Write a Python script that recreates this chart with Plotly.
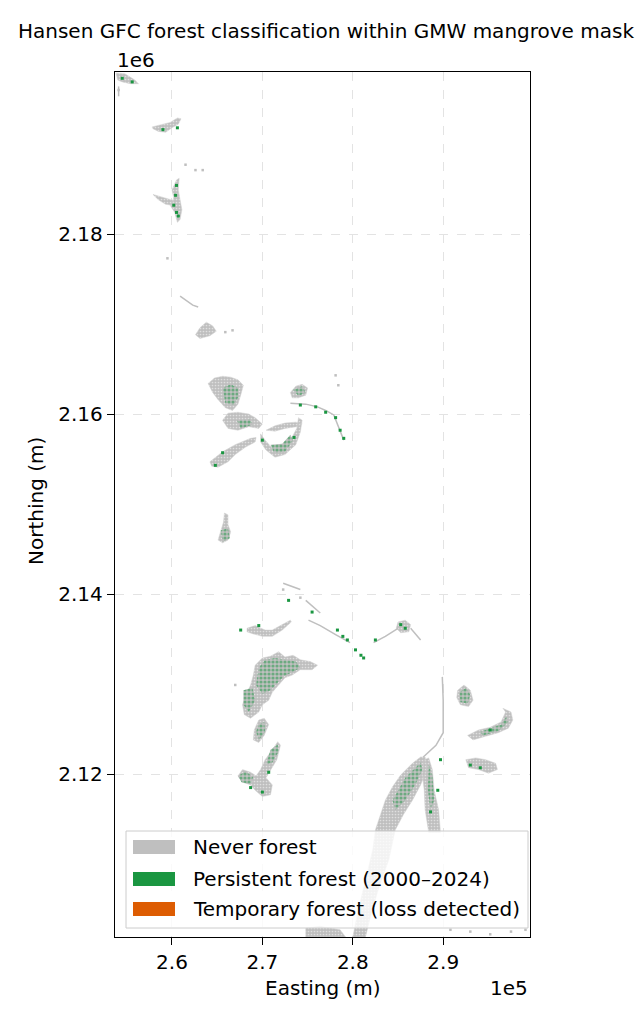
import plotly.graph_objects as go

# legend classes
class_labels = ["Never forest", "Persistent forest (2000–2024)", "Temporary forest (loss detected)"]
class_colors = ["#bfbfbf", "#1a9641", "#dd5c02"]

# axis ticks (coordinates kept in km)
x_ticks = [260, 270, 280, 290]
x_tick_text = ["2.6", "2.7", "2.8", "2.9"]
y_ticks = [2120, 2140, 2160, 2180]
y_tick_text = ["2.12", "2.14", "2.16", "2.18"]
x_range = [253.7, 299.6]
y_range = [2101.9, 2198.0]

# never-forest patch outlines (easting km / northing km), one list per patch
never_e = [
    [253.8, 254.8, 255.9, 256.3, 255.4, 254.5, 254.0],
    [257.8, 258.7, 259.8, 260.6, 261.0, 260.7, 260.0, 259.3, 258.5, 257.9],
    [257.9, 258.7, 259.6, 260.2, 260.0, 259.3, 258.5],
    [260.0, 260.5, 260.8, 260.7, 260.9, 261.1, 260.9, 260.6, 260.3, 259.8, 260.2],
    [262.6, 263.1, 263.8, 264.5, 264.9, 264.2, 263.1],
    [264.0, 264.7, 265.6, 266.5, 267.3, 267.9, 267.6, 267.3, 266.7, 265.9, 265.1, 264.5],
    [265.6, 266.2, 267.3, 268.5, 269.2, 270.0, 269.6, 268.5, 267.3, 266.2],
    [264.2, 265.6, 267.0, 268.7, 269.3, 269.2, 268.1, 267.0, 266.2, 265.1, 264.4],
    [269.8, 270.3, 271.1, 272.0, 273.1, 273.8, 274.0, 274.4, 274.2, 273.7, 272.5, 271.4, 270.4, 269.8],
    [270.4, 271.4, 272.5, 273.7, 274.4, 273.8, 272.5, 271.4],
    [273.1, 273.7, 274.4, 275.0, 274.8, 274.0, 273.3],
    [265.8, 266.2, 266.2, 266.5, 266.2, 265.6, 265.1, 265.4, 265.7],
    [268.3, 269.2, 270.3, 271.1, 272.0, 273.1, 273.2, 272.2, 271.1, 270.0, 268.9, 268.3],
    [269.2, 270.0, 270.9, 271.8, 272.5, 273.4, 274.2, 275.3, 276.1, 275.5, 274.2, 273.3,
     272.5, 271.8, 271.1, 270.7, 270.0, 269.6, 268.7, 268.0, 267.8, 268.2, 268.7, 269.0],
    [269.6, 270.2, 270.7, 270.2, 269.6, 269.0, 269.1],
    [271.7, 272.0, 271.6, 270.9, 270.4, 271.1, 270.9, 270.0, 269.2, 268.7, 267.8, 267.3,
     267.8, 268.7, 269.3, 269.8, 270.3, 271.1],
    [288.0, 288.2, 287.5, 286.6, 285.6, 284.7, 284.0, 282.8, 282.0, 281.4, 280.0, 280.6,
     281.4, 282.2, 282.5, 283.1, 283.6, 284.4, 285.3, 286.6, 287.5],
    [274.8, 276.4, 278.6, 279.2, 274.8],
    [287.9, 288.4, 288.8, 289.0, 289.5, 289.7, 288.4, 288.0, 287.9, 287.7],
    [291.6, 292.3, 293.0, 293.3, 292.8, 291.9, 291.5],
    [292.7, 293.9, 295.2, 296.4, 296.9, 296.6, 297.5, 297.7, 297.2, 296.1, 294.7, 293.3],
    [292.5, 293.6, 294.7, 295.8, 296.0, 295.0, 293.9, 292.8],
    [285.0, 285.8, 286.4, 286.2, 285.3, 284.8],
]
never_n = [
    [2197.9, 2197.8, 2197.1, 2196.7, 2196.7, 2196.9, 2197.1],
    [2191.9, 2192.1, 2192.4, 2192.9, 2192.8, 2192.2, 2191.8, 2191.3, 2191.4, 2191.7],
    [2184.4, 2184.2, 2183.9, 2183.7, 2183.2, 2183.3, 2183.8],
    [2184.9, 2186.0, 2186.2, 2184.9, 2183.8, 2182.7, 2181.6, 2181.3, 2182.4, 2183.2, 2184.0],
    [2168.8, 2169.6, 2170.2, 2169.8, 2169.2, 2168.7, 2168.4],
    [2163.4, 2164.0, 2164.2, 2164.1, 2163.8, 2163.2, 2162.1, 2161.1, 2160.4, 2160.7, 2161.6, 2162.4],
    [2159.3, 2160.1, 2160.2, 2160.0, 2159.6, 2158.9, 2158.4, 2158.6, 2158.2, 2158.4],
    [2154.7, 2155.8, 2156.6, 2157.3, 2157.4, 2156.9, 2156.3, 2155.5, 2154.7, 2154.1, 2154.2],
    [2157.8, 2157.1, 2156.2, 2156.2, 2157.1, 2158.4, 2159.6, 2159.3, 2158.0, 2156.6, 2155.5, 2155.2, 2156.0, 2156.9],
    [2158.2, 2158.7, 2159.0, 2159.1, 2158.9, 2158.6, 2158.4, 2158.1],
    [2162.4, 2163.1, 2163.3, 2162.9, 2162.1, 2161.8, 2161.8],
    [2149.0, 2148.8, 2147.7, 2146.9, 2146.0, 2145.7, 2146.0, 2147.1, 2148.0],
    [2136.2, 2136.5, 2136.0, 2136.0, 2136.5, 2137.1, 2136.9, 2136.0, 2135.3, 2135.3, 2135.6, 2135.8],
    [2132.1, 2132.9, 2133.1, 2133.6, 2133.0, 2133.2, 2132.7, 2132.5, 2132.1, 2131.6, 2131.6, 2131.0,
     2130.7, 2129.9, 2129.1, 2128.2, 2127.7, 2126.9, 2126.2, 2126.6, 2127.7, 2128.8, 2129.9, 2131.0],
    [2126.0, 2126.2, 2125.5, 2124.3, 2123.5, 2123.8, 2124.9],
    [2123.6, 2123.2, 2121.6, 2120.5, 2119.6, 2118.8, 2117.7, 2117.5, 2118.2, 2118.8, 2119.1, 2119.8,
     2120.5, 2120.2, 2119.8, 2120.5, 2121.6, 2122.7],
    [2121.9, 2120.5, 2118.8, 2117.1, 2115.5, 2113.8, 2110.5, 2107.1, 2104.3, 2101.9, 2101.9, 2104.9,
     2108.2, 2111.6, 2113.8, 2115.5, 2117.1, 2118.6, 2119.9, 2121.2, 2121.9],
    [2102.9, 2103.1, 2102.7, 2101.9, 2101.9],
    [2121.6, 2121.8, 2120.5, 2118.2, 2116.0, 2113.5, 2113.5, 2116.0, 2118.2, 2119.9],
    [2129.3, 2129.9, 2129.3, 2128.2, 2127.5, 2127.7, 2128.5],
    [2124.3, 2124.9, 2125.2, 2125.8, 2126.9, 2127.3, 2126.9, 2126.0, 2125.1, 2124.6, 2124.2, 2123.8],
    [2121.6, 2121.8, 2121.6, 2121.2, 2120.5, 2120.1, 2120.5, 2120.7],
    [2136.9, 2137.1, 2136.6, 2135.8, 2135.7, 2136.2],
]

# thin never-forest channels / fringes
fringe_e = [
    [273.1, 274.8, 276.1, 277.0, 277.9, 278.4, 279.0],
    [289.9, 290.0, 290.0, 289.2, 287.8],
    [275.1, 276.4, 278.1, 279.7],
    [282.3, 283.6, 285.0],
    [286.4, 287.5],
    [274.8, 276.4],
    [272.3, 274.2],
    [260.9, 262.3, 262.9],
    [254.1, 254.1],
]
fringe_n = [
    [2161.2, 2161.1, 2160.8, 2160.4, 2159.9, 2158.6, 2157.1],
    [2130.8, 2128.2, 2124.6, 2123.2, 2121.9],
    [2137.1, 2136.5, 2135.5, 2134.6],
    [2134.6, 2135.3, 2136.2],
    [2136.2, 2134.9],
    [2139.3, 2137.9],
    [2141.2, 2140.5],
    [2173.1, 2172.1, 2171.9],
    [2196.4, 2195.3],
]

# mixed cells: persistent forest speckled through never-forest
mixed_e = [
    [265.6, 266.5, 267.3, 267.3, 266.8, 265.9],
    [269.6, 270.3, 271.4, 272.5, 273.7, 274.2, 273.3, 272.4, 271.6, 270.9, 270.0, 269.3],
    [267.9, 268.9, 269.2, 268.5, 267.9],
    [269.6, 270.2, 270.3, 269.6, 269.3],
    [267.3, 268.1, 269.0, 268.7, 267.7],
    [270.9, 271.7, 271.8, 271.1, 270.4],
    [291.8, 292.5, 293.0, 292.7, 291.9],
    [285.8, 287.5, 287.7, 286.9, 285.8, 284.7, 284.4],
    [288.4, 288.8, 289.0, 288.6, 288.3],
    [267.2, 268.7, 268.9, 267.6],
    [265.4, 266.2, 266.4, 265.6],
    [270.9, 272.2, 273.1, 273.4, 272.5, 271.3],
    [273.4, 274.4, 274.8, 274.0],
    [294.1, 296.4, 297.0, 297.2, 296.1, 294.4],
]
mixed_n = [
    [2162.9, 2163.3, 2162.9, 2161.8, 2161.0, 2161.2],
    [2131.8, 2132.7, 2132.9, 2132.7, 2132.5, 2131.8, 2131.3, 2130.9, 2130.0, 2129.3, 2128.9, 2129.9],
    [2129.3, 2129.6, 2128.2, 2126.9, 2127.7],
    [2125.5, 2125.8, 2124.7, 2123.8, 2124.7],
    [2119.8, 2120.3, 2119.7, 2118.9, 2119.1],
    [2122.7, 2123.3, 2122.5, 2121.3, 2121.0],
    [2129.1, 2129.6, 2128.8, 2127.8, 2128.0],
    [2119.6, 2121.3, 2120.5, 2118.8, 2117.1, 2116.0, 2117.1],
    [2121.0, 2119.9, 2117.1, 2116.0, 2118.2],
    [2159.3, 2159.4, 2158.8, 2158.4],
    [2147.1, 2147.3, 2146.2, 2145.8],
    [2156.6, 2156.7, 2157.7, 2157.1, 2155.8, 2155.7],
    [2162.7, 2163.1, 2162.4, 2162.0],
    [2124.7, 2125.5, 2126.4, 2125.8, 2124.8, 2124.3],
]

# isolated persistent-forest pixels
forest_e = [254.5, 255.6, 259.0, 260.6, 260.5, 260.4, 260.2, 260.5, 260.7, 274.2, 275.9, 277.0,
            278.1, 278.6, 279.0, 273.5, 270.0, 264.8, 265.6, 278.3, 278.9, 279.4, 280.3, 280.9,
            281.2, 285.3, 285.8, 282.5, 269.6, 267.6, 272.9, 275.5, 295.2, 293.0, 294.1, 289.7,
            289.4, 288.6, 268.7, 270.0, 270.7]
forest_n = [2197.3, 2196.9, 2191.6, 2191.8, 2185.4, 2184.3, 2183.2, 2182.4, 2182.0, 2161.0, 2160.8, 2160.2,
            2159.6, 2158.2, 2157.3, 2157.4, 2157.1, 2154.3, 2155.7, 2136.0, 2135.3, 2134.9, 2133.8, 2133.2,
            2132.9, 2136.6, 2136.2, 2134.9, 2136.5, 2136.0, 2139.3, 2138.0, 2124.9, 2121.0, 2120.7, 2121.6,
            2118.2, 2115.8, 2118.5, 2118.0, 2120.2]

# isolated never-forest pixels
speck_e = [254.1, 261.5, 262.6, 263.4, 259.5, 278.1, 278.4, 266.7, 265.9, 267.0,
           290.8, 293.0, 295.2, 297.5, 299.1, 272.3, 274.2]
speck_n = [2196.0, 2187.7, 2187.1, 2187.1, 2177.3, 2164.3, 2163.2, 2169.3, 2169.1, 2129.9,
           2102.7, 2102.5, 2102.2, 2102.5, 2102.7, 2140.5, 2139.6]


def rings(parts):
    out = []
    for p in parts:
        out += list(p) + [p[0], None]
    return out


def paths(parts):
    out = []
    for p in parts:
        out += list(p) + [None]
    return out


fig = go.Figure()

fig.add_trace(go.Scatter(x=rings(never_e), y=rings(never_n), mode="lines", fill="toself",
                         fillcolor=class_colors[0], line=dict(width=0.5, color="#d0d0d0"),
                         fillpattern=dict(shape=".", fgcolor="white", bgcolor=class_colors[0],
                                          size=3, solidity=0.25),
                         hoverinfo="skip", showlegend=False))
fig.add_trace(go.Scatter(x=paths(fringe_e), y=paths(fringe_n), mode="lines",
                         line=dict(width=1.5, color=class_colors[0]), hoverinfo="skip", showlegend=False))
fig.add_trace(go.Scatter(x=rings(mixed_e), y=rings(mixed_n), mode="lines", fill="toself",
                         fillcolor=class_colors[0], line=dict(width=0, color=class_colors[0]),
                         fillpattern=dict(shape=".", fgcolor=class_colors[1], bgcolor=class_colors[0],
                                          size=4, solidity=0.5),
                         hoverinfo="skip", showlegend=False))
fig.add_trace(go.Scatter(x=speck_e, y=speck_n, mode="markers",
                         marker=dict(symbol="square", size=2.5, color=class_colors[0]),
                         hoverinfo="skip", showlegend=False))
fig.add_trace(go.Scatter(x=forest_e, y=forest_n, mode="markers",
                         marker=dict(symbol="square", size=3, color=class_colors[1]),
                         hoverinfo="skip", showlegend=False))

font = dict(family="DejaVu Sans", color="black")

# target positions are screen pixels; the page puts the figure 8 px in from the corner
OFF = 8
W, H = 644 - OFF, 1024 - OFF
L, R, T, B = 115, 530, 72, 937


def px(xs):
    return (xs - L) / (R - L)


def py(ys):
    return (B - ys) / (B - T)


shapes = [dict(type="rect", xref="paper", yref="paper", x0=px(126), x1=px(528), y0=py(928), y1=py(831),
               fillcolor="rgba(255,255,255,0.8)", line=dict(color="#cccccc", width=1))]
annotations = []
row_y = [847, 879, 909]
for lab, col, ry in zip(class_labels, class_colors, row_y):
    shapes.append(dict(type="rect", xref="paper", yref="paper", x0=px(133), x1=px(175),
                       y0=py(ry + 7), y1=py(ry - 7), fillcolor=col, line=dict(width=0)))
    annotations.append(dict(text=lab, xref="paper", yref="paper", x=px(191), y=py(ry),
                            xanchor="left", yanchor="middle", showarrow=False, font=dict(size=20, **font)))

annotations += [
    dict(text="1e6", xref="paper", yref="paper", x=0, y=py(60), xanchor="left", yanchor="middle",
         showarrow=False, font=dict(size=20, **font)),
    dict(text="1e5", xref="paper", yref="paper", x=1, y=py(988), xanchor="right", yanchor="middle",
         showarrow=False, font=dict(size=20, **font)),
    dict(text="Easting (m)", xref="paper", yref="paper", x=px(323), y=py(988), xanchor="center",
         yanchor="middle", showarrow=False, font=dict(size=20, **font)),
    dict(text="Northing (m)", xref="paper", yref="paper", x=px(36), y=py(501), xanchor="center",
         yanchor="middle", textangle=-90, showarrow=False, font=dict(size=20, **font)),
]

axis_common = dict(showline=True, linecolor="black", linewidth=1.4, mirror=True, ticks="outside",
                   ticklen=7, tickwidth=1.1, tickcolor="black", showgrid=True, gridcolor="#e3e3e3",
                   griddash="dash", gridwidth=1, zeroline=False, tickfont=dict(size=20, **font))

fig.update_layout(
    width=W, height=H, autosize=False,
    margin=dict(l=L - OFF, r=W - (R - OFF), t=T - OFF, b=H - (B - OFF)),
    plot_bgcolor="white", paper_bgcolor="white",
    title=dict(text="Hansen GFC forest classification within GMW mangrove mask", x=0.5, xanchor="center",
               y=1 - (31 - OFF) / H, yanchor="middle", font=dict(size=20, **font)),
    xaxis=dict(range=x_range, tickvals=x_ticks, ticktext=x_tick_text, **axis_common),
    yaxis=dict(range=y_range, tickvals=y_ticks, ticktext=y_tick_text, **axis_common),
    shapes=shapes, annotations=annotations,
)

fig.write_html("out.html")
